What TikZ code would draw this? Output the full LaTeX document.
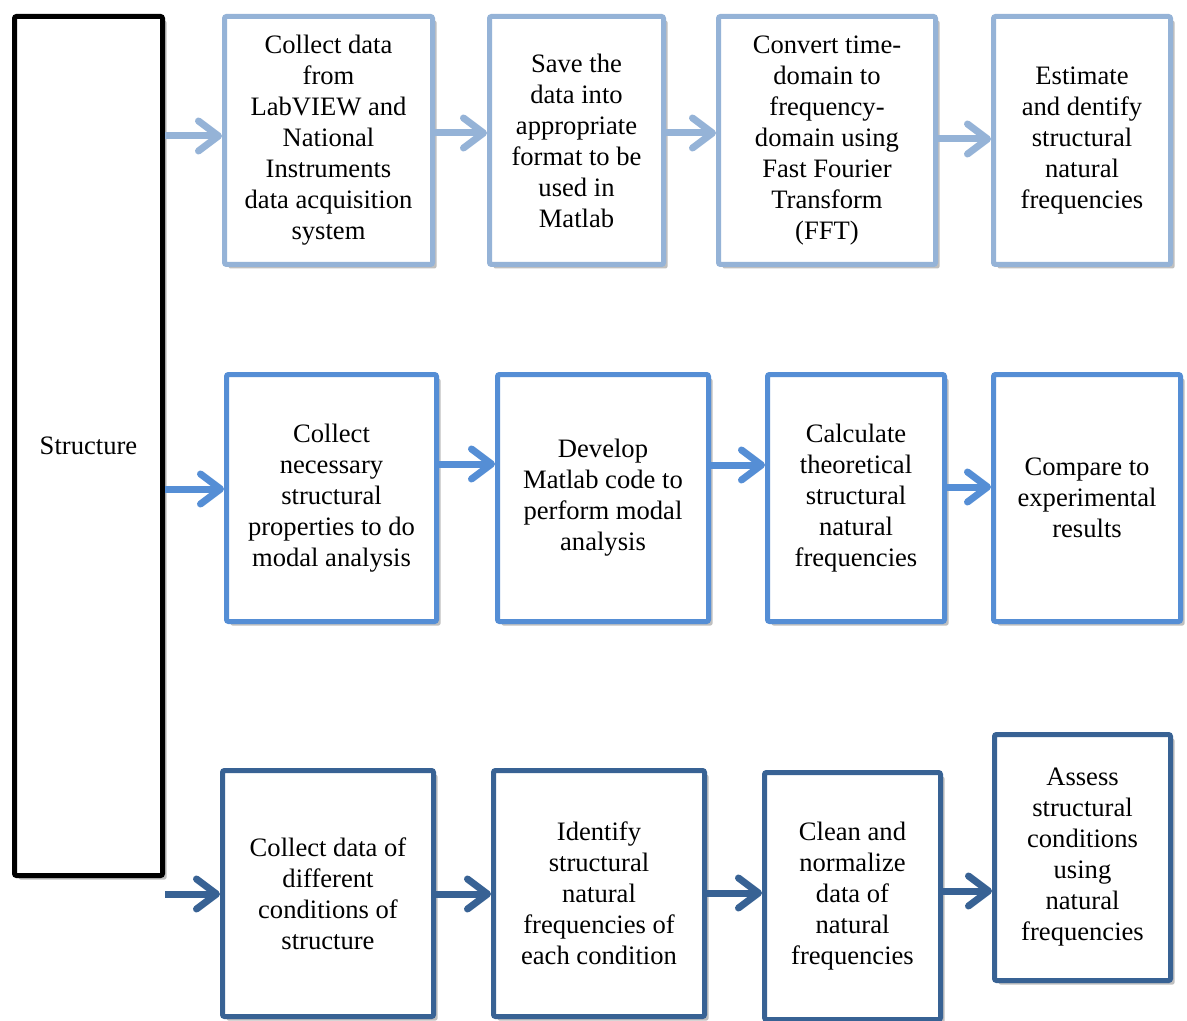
\documentclass[tikz,border=0pt]{standalone}
\usepackage{fontspec}
\setmainfont{Liberation Serif}
\usetikzlibrary{arrows.meta,shadows}

\definecolor{rowone}{RGB}{149,179,215}
\definecolor{rowtwo}{RGB}{85,142,213}
\definecolor{rowthree}{RGB}{56,98,148}

\tikzset{
  stepbox/.style={draw=#1, line width=2.5pt, fill=white, rounded corners=1pt,
    align=center, inner sep=0pt, font=\fontsize{13.3}{15.5}\selectfont,
    drop shadow={shadow xshift=2pt, shadow yshift=-2pt, opacity=0.25, fill=black}},
  flow/.style={draw=#1, line width=3.5pt, -{Straight Barb[length=10pt,width=15pt,round]}}
}

\begin{document}
\begin{tikzpicture}[x=0.5pt,y=-0.5pt]
\useasboundingbox (0,0) rectangle (1187,1021);

\node[stepbox=black, minimum width=74pt, minimum height=429.5pt] (st) at (88.5,446) {Structure};

% first row
\node[stepbox=rowone, minimum width=104pt, minimum height=124pt] (r1a) at (328.5,140.5) {Collect data\\from\\LabVIEW and\\National\\Instruments\\data acquisition\\system};
\node[stepbox=rowone, minimum width=87pt, minimum height=124pt] (r1b) at (576.5,140.5) {Save the\\data into\\appropriate\\format to be\\used in\\Matlab};
\node[stepbox=rowone, minimum width=108.5pt, minimum height=124pt] (r1c) at (827,140.5) {Convert time-\\domain to\\frequency-\\domain using\\Fast Fourier\\Transform\\(FFT)};
\node[stepbox=rowone, minimum width=88.5pt, minimum height=124pt] (r1d) at (1082,140.5) {Estimate\\and dentify\\structural\\natural\\frequencies};

% second row
\node[stepbox=rowtwo, minimum width=105pt, minimum height=123.5pt] (r2a) at (331.5,498) {Collect\\necessary\\structural\\properties to do\\modal analysis};
\node[stepbox=rowtwo, minimum width=105.5pt, minimum height=123.5pt] (r2b) at (603,498) {Develop\\Matlab code to\\perform modal\\analysis};
\node[stepbox=rowtwo, minimum width=88.5pt, minimum height=123.5pt] (r2c) at (856,498) {Calculate\\theoretical\\structural\\natural\\frequencies};
\node[stepbox=rowtwo, minimum width=93.5pt, minimum height=123.5pt] (r2d) at (1087,498) {Compare to\\experimental\\results};

% third row
\node[stepbox=rowthree, minimum width=105.5pt, minimum height=123pt] (r3a) at (328,893.5) {Collect data of\\different\\conditions of\\structure};
\node[stepbox=rowthree, minimum width=105.5pt, minimum height=123pt] (r3b) at (599,893.5) {Identify\\structural\\natural\\frequencies of\\each condition};
\node[stepbox=rowthree, minimum width=88pt, minimum height=123.5pt] (r3c) at (852.5,896) {Clean and\\normalize\\data of\\natural\\frequencies};
\node[stepbox=rowthree, minimum width=88pt, minimum height=123pt] (r3d) at (1082.5,857.5) {Assess\\structural\\conditions\\using\\natural\\frequencies};

% arrows
\draw[flow=rowone] (st.east |- 0,136) -- (r1a.west |- 0,136);
\draw[flow=rowone] (r1a.east |- 0,133) -- (r1b.west |- 0,133);
\draw[flow=rowone] (r1b.east |- 0,133) -- (r1c.west |- 0,133);
\draw[flow=rowone] (r1c.east |- 0,139) -- (r1d.west |- 0,139);

\draw[flow=rowtwo] (st.east |- 0,489) -- (r2a.west |- 0,489);
\draw[flow=rowtwo] (r2a.east |- 0,464) -- (r2b.west |- 0,464);
\draw[flow=rowtwo] (r2b.east |- 0,465) -- (r2c.west |- 0,465);
\draw[flow=rowtwo] (r2c.east |- 0,487) -- (r2d.west |- 0,487);

\draw[flow=rowthree] (st.east |- 0,894) -- (r3a.west |- 0,894);
\draw[flow=rowthree] (r3a.east |- 0,894) -- (r3b.west |- 0,894);
\draw[flow=rowthree] (r3b.east |- 0,893) -- (r3c.west |- 0,893);
\draw[flow=rowthree] (r3c.east |- 0,891) -- (r3d.west |- 0,891);

\end{tikzpicture}
\end{document}
